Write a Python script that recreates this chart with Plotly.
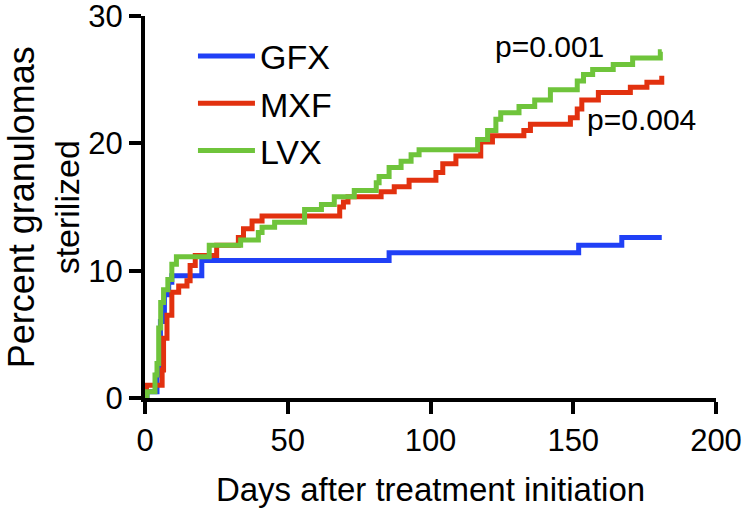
import plotly.graph_objects as go

# cumulative % of granulomas sterilized (step curves)
gfx_days = [0, 0.7, 4.2, 5.4, 6.8, 8.3, 9.4, 19.9, 85.5, 151.9, 167, 181]
gfx_pct = [0, 0.5, 1.8, 6.0, 8.1, 9.1, 9.6, 10.8, 11.4, 12.0, 12.6, 12.6]

mxf_days = [0, 0.5, 6.0, 6.5, 7.7, 9.4, 11.8, 14.7, 15.8, 17.6, 25.1, 32.7, 34.5,
            37.5, 41, 68.2, 69.5, 71.1, 82.7, 87.3, 92.5, 101.9, 104.3, 108.9,
            117.6, 121.7, 132.7, 135, 149, 151.4, 153, 158.8, 170, 175.8, 181]
mxf_pct = [0, 1.0, 2.2, 4.7, 6.5, 8.3, 8.8, 9.2, 10.4, 11.2, 12.0, 12.6, 13.3,
           13.9, 14.3, 15.0, 15.4, 15.8, 16.2, 16.6, 17.1, 17.7, 18.4, 19.0,
           20.1, 20.6, 21.0, 21.5, 22.0, 22.7, 23.4, 24.0, 24.4, 24.8, 25.3]

lvx_days = [0, 0.7, 3.5, 4.2, 4.8, 5.5, 6.5, 8.0, 9.4, 11.0, 22.5, 33.5, 39.7,
            41, 45.4, 55.9, 61.8, 66.3, 73.3, 81, 82, 85.5, 89.7, 93.2, 96,
            116.5, 120, 122.9, 124.6, 131, 136.5, 142, 151.4, 153.6, 156.8, 164,
            170.8, 180.5, 181]
lvx_pct = [0, 0.5, 1.8, 2.7, 5.5, 7.5, 8.5, 9.3, 10.5, 11.1, 12.0, 12.4, 13.0,
           13.4, 13.8, 14.8, 15.2, 15.8, 16.3, 16.9, 17.4, 18.1, 18.6, 19.1, 19.5,
           20.3, 21.0, 21.9, 22.4, 22.9, 23.4, 24.2, 24.9, 25.4, 25.8, 26.2,
           26.7, 27.2, 27.2]

pvals = ["p=0.001", "p=0.004"]
pval_x = [141.7, 174]
pval_y = [27.6, 21.9]

FONT = "Arial, Liberation Sans, Helvetica, sans-serif"

fig = go.Figure()
for name, xs, ys, col in [("GFX", gfx_days, gfx_pct, "#2040f6"),
                          ("MXF", mxf_days, mxf_pct, "#e2310f"),
                          ("LVX", lvx_days, lvx_pct, "#6fc43b")]:
    fig.add_trace(go.Scatter(x=xs, y=ys, name=name, mode="lines",
                             line=dict(color=col, width=5, shape="hv")))

for txt, x, y in zip(pvals, pval_x, pval_y):
    fig.add_annotation(x=x, y=y, text=txt, showarrow=False,
                       font=dict(size=30, color="black", family=FONT))

# y axis title as an annotation so it sits where the original has it
fig.add_annotation(xref="paper", yref="paper", x=-0.178, y=0.5, textangle=-90,
                   xanchor="center", yanchor="middle",
                   text="<span style='font-size:36px'>Percent granulomas</span><br>sterilized",
                   showarrow=False, font=dict(size=34, color="black", family=FONT))

axis_style = dict(showline=True, linewidth=4, linecolor="black", ticks="outside",
                  ticklen=12, tickwidth=4, tickcolor="black", showgrid=False,
                  zeroline=False, automargin=False, ticklabeloverflow="allow",
                  tickfont=dict(size=31, color="black", family=FONT))

fig.update_xaxes(range=[0, 200], tickvals=[0, 50, 100, 150, 200],
                 title=dict(text="Days after treatment initiation", standoff=22,
                            font=dict(size=33, color="black", family=FONT)),
                 **axis_style)
fig.update_yaxes(range=[0, 30], tickvals=[0, 10, 20, 30], **axis_style)

fig.update_layout(
    width=750, height=519,
    margin=dict(l=145, r=34, t=16, b=121),
    plot_bgcolor="white", paper_bgcolor="white",
    legend=dict(x=0.084, y=0.97, xanchor="left", yanchor="top",
                font=dict(size=34, color="black", family=FONT),
                bgcolor="rgba(0,0,0,0)", itemwidth=57),
)

fig.write_html("out.html", config={"displayModeBar": False},
               post_script="document.body.style.margin='0';")
